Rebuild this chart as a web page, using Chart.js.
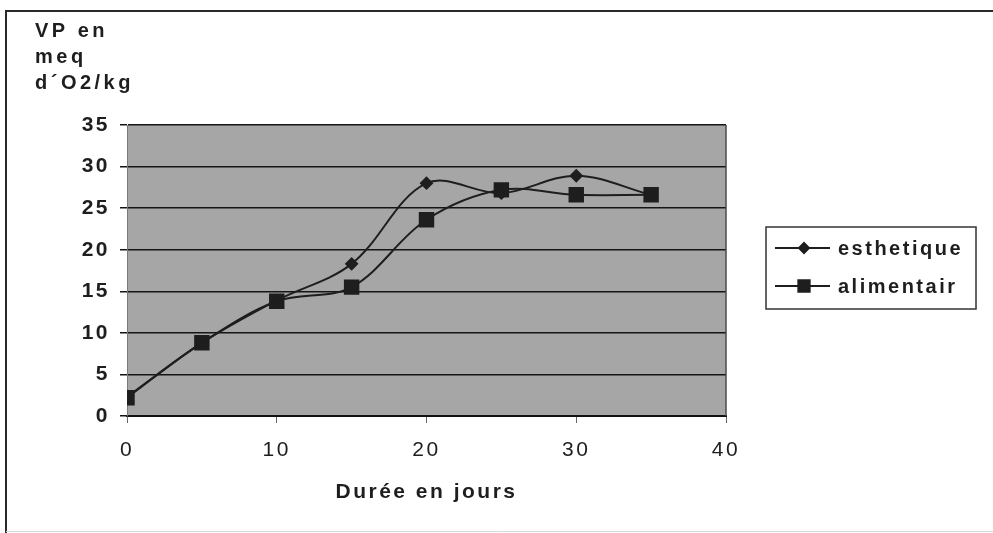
<!DOCTYPE html>
<html>
<head>
<meta charset="utf-8">
<title>VP en meq d'O2/kg</title>
<script src="https://cdn.jsdelivr.net/npm/chart.js@4.4.1/dist/chart.umd.min.js"></script>
<style>
    html, body { margin: 0; padding: 0; background: #ffffff; }
    #wrap { position: relative; width: 993px; height: 533px; }
</style>
</head>
<body>
<div id="wrap"><canvas id="vpChart" width="993" height="533"></canvas></div>
<script>
var days = [0, 5, 10, 15, 20, 25, 30, 35];
var esthetique = [2.3, 8.8, 13.9, 18.3, 28.0, 26.8, 28.9, 26.6];
var alimentair = [2.2, 8.8, 13.8, 15.5, 23.6, 27.2, 26.6, 26.6];
var seriesNames = ['esthetique', 'alimentair'];
var yTitleLines = ['VP en', 'meq', 'd\u00b4O2/kg'];
var xTitle = 'Dur\u00e9e en jours';

(function () {
    var FONT = 'Liberation Sans, Arial, sans-serif';
    var INK = '#1e1e1e';

    function toPoints(xs, ys) {
        return xs.map(function (x, i) {
            return { x: x, y: ys[i] };
        });
    }

    // gray plot fill, outer frame, y title and the boxed legend
    var decorPlugin = {
        id: 'decor',
        beforeDraw: function (chart) {
            var ctx = chart.ctx;
            var a = chart.chartArea;
            ctx.save();
            ctx.fillStyle = '#a6a6a6';
            ctx.fillRect(a.left, a.top, a.right - a.left, a.bottom - a.top);

            ctx.strokeStyle = '#2a2a2a';
            ctx.lineWidth = 2;
            ctx.beginPath();
            ctx.moveTo(6, 533);
            ctx.lineTo(6, 11);
            ctx.lineTo(993, 11);
            ctx.stroke();
            ctx.strokeStyle = '#d8d8d8';
            ctx.lineWidth = 1;
            ctx.beginPath();
            ctx.moveTo(6, 531.5);
            ctx.lineTo(993, 531.5);
            ctx.stroke();
            ctx.restore();
            ctx.letterSpacing = '2.5px';
        },
        afterDraw: function (chart) {
            var ctx = chart.ctx;
            var a = chart.chartArea;
            ctx.save();
            ctx.strokeStyle = '#4a4a4a';
            ctx.lineWidth = 1.5;
            ctx.beginPath();
            ctx.moveTo(a.right, a.top);
            ctx.lineTo(a.right, a.bottom);
            ctx.stroke();

            ctx.fillStyle = INK;
            ctx.font = 'bold 20px ' + FONT;
            ctx.letterSpacing = '3.5px';
            ctx.textAlign = 'left';
            ctx.textBaseline = 'middle';
            yTitleLines.forEach(function (line, i) {
                ctx.fillText(line, 35, 31 + i * 26);
            });

            // legend box
            ctx.fillStyle = '#ffffff';
            ctx.fillRect(766, 227, 210, 82);
            ctx.strokeStyle = '#333333';
            ctx.lineWidth = 1.5;
            ctx.strokeRect(766, 227, 210, 82);
            chart.data.datasets.forEach(function (ds, i) {
                var y = 248 + i * 38;
                ctx.strokeStyle = INK;
                ctx.fillStyle = INK;
                ctx.lineWidth = 2;
                ctx.beginPath();
                ctx.moveTo(775, y);
                ctx.lineTo(830, y);
                ctx.stroke();
                Chart.helpers.drawPoint(ctx, {
                    pointStyle: ds.pointStyle,
                    radius: i === 0 ? 5 : 8,
                    borderWidth: 1
                }, 804, y);
                ctx.fillStyle = INK;
                ctx.font = 'bold 20px ' + FONT;
                ctx.letterSpacing = '2.5px';
                ctx.fillText(ds.label, 838, y + 1);
            });
            ctx.restore();
        }
    };

    function lineSet(label, values, style, radius) {
        return {
            label: label,
            data: toPoints(days, values),
            borderColor: INK,
            backgroundColor: INK,
            pointBackgroundColor: INK,
            pointBorderColor: INK,
            pointStyle: style,
            pointRadius: radius,
            borderWidth: 2,
            tension: 0.35,
            fill: false
        };
    }

    function initVpChart() {
        var canvas = document.getElementById('vpChart');
        if (!canvas || typeof Chart === 'undefined') {
            return;
        }

        new Chart(canvas, {
            type: 'line',
            data: {
                datasets: [
                    lineSet(seriesNames[0], esthetique, 'rectRot', 5.5),
                    lineSet(seriesNames[1], alimentair, 'rect', 9.5)
                ]
            },
            options: {
                responsive: false,
                animation: false,
                events: [],
                layout: {
                    padding: { left: 0, top: 125, right: 267, bottom: 28 }
                },
                plugins: {
                    legend: { display: false },
                    tooltip: { enabled: false }
                },
                scales: {
                    x: {
                        type: 'linear',
                        min: 0,
                        max: 40,
                        afterFit: function (scale) { scale.height = 89; },
                        ticks: {
                            stepSize: 10,
                            padding: 15,
                            color: INK,
                            font: { family: FONT, size: 21 }
                        },
                        grid: {
                            drawOnChartArea: false,
                            drawTicks: true,
                            tickLength: 7,
                            color: '#666666',
                            lineWidth: 1
                        },
                        border: { color: '#111111', width: 2 },
                        title: {
                            display: true,
                            text: xTitle,
                            color: INK,
                            padding: { top: 0, bottom: 0 },
                            font: { family: FONT, size: 21, weight: 'bold' }
                        }
                    },
                    y: {
                        min: 0,
                        max: 35,
                        afterFit: function (scale) { scale.width = 127; },
                        ticks: {
                            stepSize: 5,
                            padding: 10,
                            color: INK,
                            font: { family: FONT, size: 21, weight: 'bold' }
                        },
                        grid: {
                            color: '#151515',
                            lineWidth: 1.5,
                            tickLength: 7
                        },
                        border: { color: '#7a7a7a', width: 1 }
                    }
                }
            },
            plugins: [decorPlugin]
        });
    }

    if (document.readyState === 'loading') {
        document.addEventListener('DOMContentLoaded', initVpChart);
    } else {
        initVpChart();
    }
})();
</script>
</body>
</html>
